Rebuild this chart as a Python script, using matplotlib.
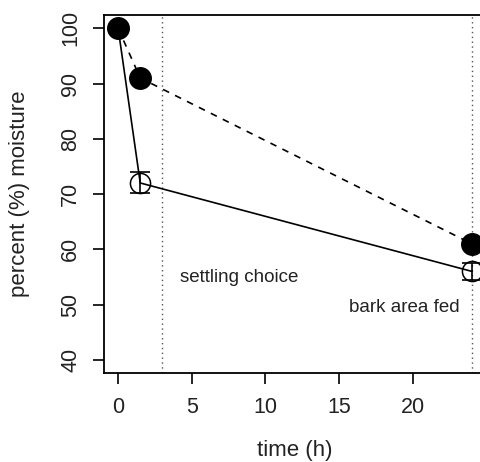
import numpy as np
import matplotlib.pyplot as plt

plt.rcParams['font.family'] = ['Liberation Sans', 'DejaVu Sans']

# data
time_h = [0, 1.5, 24]
moist_filled = [100, 91, 61]
moist_open = [100, 72, 56]
err_open = [0, 1.9, 1.5]
vlines_x = [3, 24]
notes = [(4.2, 54.8, "settling choice"), (15.7, 49.5, "bark area fed")]
xticks = [0, 5, 10, 15, 20]
yticks = [40, 50, 60, 70, 80, 90, 100]

fig = plt.figure(figsize=(4.81, 4.62), dpi=100)
ax = fig.add_axes([0.2162, 0.1926, 0.794, 0.7749])

for xv in vlines_x:
	ax.axvline(xv, color='#555555', ls=(0, (1, 2.5)), lw=1.0, zorder=1)

ax.plot(time_h, moist_open, color='black', lw=1.2, zorder=2)
ax.plot(time_h, moist_filled, color='black', lw=1.2, ls=(0, (4, 4)), zorder=2)

ax.errorbar(time_h, moist_open, yerr=err_open, fmt='none', ecolor='black',
	elinewidth=1.2, capsize=7, capthick=1.2, zorder=3)
ax.plot(time_h, moist_open, 'o', ms=14.5, mfc='none', mec='black', mew=1.1, zorder=4)
ax.plot(time_h, moist_filled, 'o', ms=15.5, mfc='black', mec='black', zorder=5)

for x, y, s in notes:
	ax.text(x, y, s, fontsize=13.5, color='#222222', va='center', ha='left')

ax.set_xlim(-0.96, 24.96)
ax.set_ylim(37.6, 102.4)
ax.set_xticks(xticks)
ax.set_yticks(yticks)
ax.set_yticklabels([str(v) for v in yticks], rotation=90, va='center')
ax.tick_params(length=8, width=1.2, labelsize=15.5, colors='black')
ax.tick_params(axis='x', pad=9)
ax.tick_params(axis='y', pad=8.5)
for tl in ax.get_xticklabels() + ax.get_yticklabels():
	tl.set_color('#222222')
for sp in ax.spines.values():
	sp.set_linewidth(1.3)

ax.set_xlabel("time (h)", fontsize=16, color='#222222', labelpad=16)
ax.set_ylabel("percent (%) moisture", fontsize=16, color='#222222', labelpad=22)

fig.savefig("out.png", dpi=100)
